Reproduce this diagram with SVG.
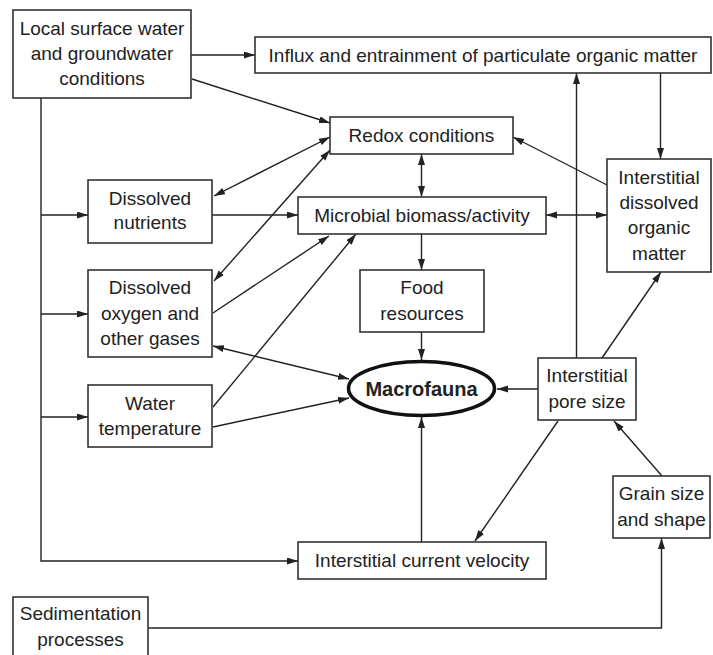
<svg xmlns="http://www.w3.org/2000/svg" width="713" height="655" viewBox="0 0 713 655">
  <style>
    .box { fill: #ffffff; stroke: #333333; stroke-width: 1.6; }
    .lbl { font-family: "Liberation Sans", Arial, sans-serif; font-size: 19px; fill: #222222; text-anchor: middle; dominant-baseline: central; }
    .bold { font-weight: bold; font-size: 20px; }
    .ln { fill: none; stroke: #222222; stroke-width: 1.4; }
    .one { marker-end: url(#ah); }
    .two { marker-start: url(#ah); marker-end: url(#ah); }
  </style>
  <defs>
    <marker id="ah" markerUnits="userSpaceOnUse" markerWidth="12" markerHeight="8" refX="11" refY="3.5" orient="auto-start-reverse">
      <path d="M0,0 L11,3.5 L0,7 z" fill="#222222"/>
    </marker>
  </defs>
  <rect width="713" height="655" fill="#ffffff"/>

  <g id="connectors">
    <!-- trunk from local conditions -->
    <polyline class="ln one" points="41,98 41,561 298,561"/>
    <line class="ln one" x1="41" y1="215" x2="88" y2="215"/>
    <line class="ln one" x1="41" y1="314" x2="88" y2="314"/>
    <line class="ln one" x1="41" y1="417" x2="88" y2="417"/>
    <line class="ln one" x1="191" y1="55" x2="255" y2="55"/>
    <line class="ln one" x1="192" y1="79" x2="330" y2="123"/>
    <!-- redox links -->
    <line class="ln two" x1="214" y1="196" x2="330" y2="137"/>
    <line class="ln two" x1="214" y1="281" x2="330" y2="150"/>
    <line class="ln two" x1="421.5" y1="154" x2="421.5" y2="197"/>
    <line class="ln one" x1="607" y1="185" x2="513" y2="137"/>
    <!-- microbial links -->
    <line class="ln one" x1="212" y1="215" x2="298" y2="215"/>
    <line class="ln one" x1="213" y1="313" x2="329" y2="236"/>
    <line class="ln one" x1="213" y1="407" x2="356" y2="234"/>
    <line class="ln two" x1="546" y1="215" x2="607" y2="215"/>
    <line class="ln one" x1="421.5" y1="234" x2="421.5" y2="270"/>
    <line class="ln one" x1="421.5" y1="332" x2="421.5" y2="360"/>
    <!-- organic matter -->
    <line class="ln one" x1="660.5" y1="73" x2="660.5" y2="159"/>
    <line class="ln one" x1="576.5" y1="358" x2="576.5" y2="73"/>
    <line class="ln one" x1="602" y1="358" x2="661" y2="272"/>
    <!-- macrofauna inputs -->
    <line class="ln two" x1="213" y1="346" x2="349" y2="379"/>
    <line class="ln one" x1="213" y1="427" x2="349" y2="398"/>
    <line class="ln one" x1="538" y1="389" x2="497" y2="389"/>
    <line class="ln one" x1="421.5" y1="542" x2="421.5" y2="417"/>
    <!-- pore size / grain / sedimentation -->
    <line class="ln one" x1="558" y1="421" x2="475" y2="541"/>
    <line class="ln one" x1="662" y1="476" x2="614" y2="421"/>
    <polyline class="ln one" points="148,628 661.5,628 661.5,538"/>
  </g>

  <g id="local-conditions">
    <rect class="box" x="13" y="10" width="178" height="88"/>
    <text class="lbl" x="102" y="28">Local surface water</text>
    <text class="lbl" x="102" y="53">and groundwater</text>
    <text class="lbl" x="102" y="78">conditions</text>
  </g>
  <g id="influx">
    <rect class="box" x="255" y="37" width="456" height="36"/>
    <text class="lbl" x="483" y="55">Influx and entrainment of particulate organic matter</text>
  </g>
  <g id="redox">
    <rect class="box" x="330" y="117" width="183" height="37"/>
    <text class="lbl" x="421.5" y="135">Redox conditions</text>
  </g>
  <g id="dissolved-nutrients">
    <rect class="box" x="88" y="180" width="124" height="63"/>
    <text class="lbl" x="150" y="198">Dissolved</text>
    <text class="lbl" x="150" y="222">nutrients</text>
  </g>
  <g id="microbial">
    <rect class="box" x="298" y="197" width="248" height="37"/>
    <text class="lbl" x="422" y="215">Microbial biomass/activity</text>
  </g>
  <g id="interstitial-dom">
    <rect class="box" x="607" y="159" width="104" height="113"/>
    <text class="lbl" x="659" y="177">Interstitial</text>
    <text class="lbl" x="659" y="202">dissolved</text>
    <text class="lbl" x="659" y="227">organic</text>
    <text class="lbl" x="659" y="253">matter</text>
  </g>
  <g id="dissolved-oxygen">
    <rect class="box" x="88" y="270" width="124" height="87"/>
    <text class="lbl" x="150" y="287">Dissolved</text>
    <text class="lbl" x="150" y="313">oxygen and</text>
    <text class="lbl" x="150" y="338">other gases</text>
  </g>
  <g id="food">
    <rect class="box" x="360" y="270" width="124" height="62"/>
    <text class="lbl" x="422" y="287">Food</text>
    <text class="lbl" x="422" y="313">resources</text>
  </g>
  <g id="water-temperature">
    <rect class="box" x="88" y="385" width="124" height="62"/>
    <text class="lbl" x="150" y="403">Water</text>
    <text class="lbl" x="150" y="428">temperature</text>
  </g>
  <g id="macrofauna">
    <ellipse cx="421.5" cy="388.5" rx="73" ry="27" fill="#ffffff" stroke="#111111" stroke-width="3.6"/>
    <text class="lbl bold" x="421.5" y="389">Macrofauna</text>
  </g>
  <g id="pore-size">
    <rect class="box" x="538" y="358" width="98" height="62"/>
    <text class="lbl" x="587" y="375">Interstitial</text>
    <text class="lbl" x="587" y="401">pore size</text>
  </g>
  <g id="grain-size">
    <rect class="box" x="613" y="476" width="97" height="62"/>
    <text class="lbl" x="661.5" y="493">Grain size</text>
    <text class="lbl" x="661.5" y="519">and shape</text>
  </g>
  <g id="current-velocity">
    <rect class="box" x="298" y="542" width="248" height="37"/>
    <text class="lbl" x="422" y="560">Interstitial current velocity</text>
  </g>
  <g id="sedimentation">
    <rect class="box" x="13" y="597" width="135" height="70"/>
    <text class="lbl" x="80.5" y="613">Sedimentation</text>
    <text class="lbl" x="80.5" y="639">processes</text>
  </g>
</svg>
